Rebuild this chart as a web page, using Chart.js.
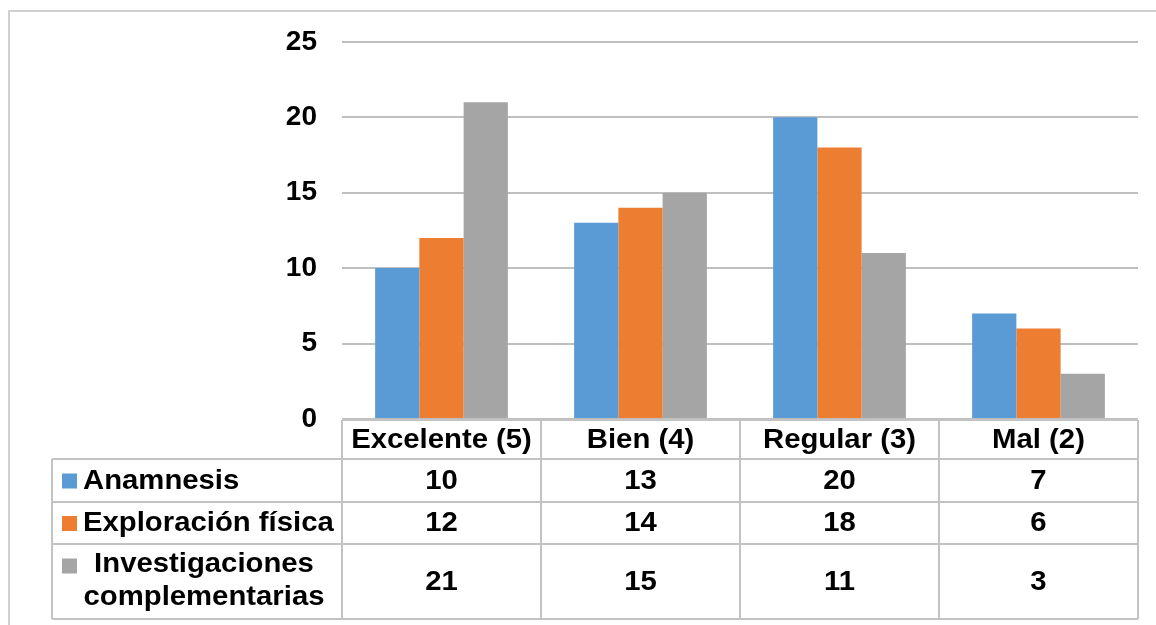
<!DOCTYPE html>
<html>
<head>
<meta charset="utf-8">
<script src="https://cdn.jsdelivr.net/npm/chart.js@4/dist/chart.umd.min.js"></script>
<style>
  html, body { margin: 0; padding: 0; background: #ffffff; }
  canvas { display: block; }
</style>
</head>
<body>
<canvas id="chart" width="1156" height="625"></canvas>
<script>
// Categories (rating levels) and the three evaluated aspects
const categories = ['Excelente (5)', 'Bien (4)', 'Regular (3)', 'Mal (2)'];
const anamnesis = [10, 13, 20, 7];
const exploracionFisica = [12, 14, 18, 6];
const investigaciones = [21, 15, 11, 3];
const seriesNames = ['Anamnesis', 'Exploración física', ['Investigaciones', 'complementarias']];
const seriesColors = ['#5B9BD5', '#ED7D31', '#A5A5A5'];
const yTicks = [0, 5, 10, 15, 20, 25];

const FONT = "'Liberation Sans', Arial, sans-serif";
const LINE = '#c3c3c3';
const STRETCH = 1.085;

// Writes a text slightly widened horizontally, anchored at (x, y)
function wideText(ctx, text, x, y, align) {
  ctx.save();
  ctx.translate(x, y);
  ctx.scale(STRETCH, 1);
  ctx.textAlign = align;
  ctx.fillText(text, 0, 0);
  ctx.restore();
}

// Draws the frame and the data table under the plot, aligned to the x scale
const dataTablePlugin = {
  id: 'dataTable',
  afterDraw(chart) {
    const ctx = chart.ctx;
    const area = chart.chartArea;
    const xs = chart.scales.x;
    const colW = (area.right - area.left) / categories.length;
    const top = area.bottom + 1;
    const rows = [top, top + 39, top + 82, top + 124, top + 199];
    const labelLeft = 52;

    ctx.save();
    // outer frame
    ctx.strokeStyle = '#d0d0d0';
    ctx.lineWidth = 2;
    ctx.beginPath();
    ctx.moveTo(9, 640);
    ctx.lineTo(9, 11);
    ctx.lineTo(1160, 11);
    ctx.stroke();

    // table grid
    ctx.strokeStyle = LINE;
    ctx.lineWidth = 2;
    ctx.beginPath();
    ctx.moveTo(area.left, rows[0]); ctx.lineTo(area.right, rows[0]);
    for (let r = 1; r < rows.length; r++) {
      ctx.moveTo(labelLeft, rows[r]); ctx.lineTo(area.right, rows[r]);
    }
    ctx.moveTo(labelLeft, rows[1]); ctx.lineTo(labelLeft, rows[4]);
    for (let i = 0; i <= categories.length; i++) {
      const x = area.left + i * colW;
      ctx.moveTo(x, rows[0]); ctx.lineTo(x, rows[4]);
    }
    ctx.stroke();

    ctx.fillStyle = '#000';
    ctx.font = 'bold 27px ' + FONT;
    ctx.textBaseline = 'middle';

    // header row: category names
    categories.forEach((c, i) => {
      wideText(ctx, c, xs.getPixelForValue(i), (rows[0] + rows[1]) / 2 + 1, 'center');
    });

    // series rows
    chart.data.datasets.forEach((ds, d) => {
      const yMid = (rows[d + 1] + rows[d + 2]) / 2 + 1;
      ds.data.forEach((v, i) => {
        wideText(ctx, String(v), xs.getPixelForValue(i), yMid, 'center');
      });
      const name = seriesNames[d];
      if (Array.isArray(name)) {
        ctx.fillStyle = ds.backgroundColor;
        ctx.fillRect(62, yMid - 24, 15, 15);
        ctx.fillStyle = '#000';
        wideText(ctx, name[0], 204, yMid - 18, 'center');
        wideText(ctx, name[1], 204, yMid + 15, 'center');
      } else {
        ctx.fillStyle = ds.backgroundColor;
        ctx.fillRect(62, yMid - 8, 15, 15);
        ctx.fillStyle = '#000';
        wideText(ctx, name, 83, yMid, 'left');
      }
    });
    ctx.restore();
  }
};

new Chart(document.getElementById('chart'), {
  type: 'bar',
  data: {
    labels: categories,
    datasets: [
      { label: 'Anamnesis', data: anamnesis, backgroundColor: seriesColors[0] },
      { label: 'Exploración física', data: exploracionFisica, backgroundColor: seriesColors[1] },
      { label: 'Investigaciones complementarias', data: investigaciones, backgroundColor: seriesColors[2] }
    ]
  },
  options: {
    responsive: false,
    animation: false,
    events: [],
    datasets: { bar: { categoryPercentage: 0.667, barPercentage: 1.0 } },
    layout: { padding: { left: 0, right: 18, top: 39, bottom: 206 } },
    plugins: { legend: { display: false }, tooltip: { enabled: false } },
    scales: {
      x: { display: false },
      y: {
        min: 0,
        max: 25,
        afterFit(scale) { scale.width = 342; },
        afterBuildTicks(scale) { scale.ticks = yTicks.map(v => ({ value: v })); },
        border: { display: false },
        grid: { color: '#bfbfbf', lineWidth: 2, drawTicks: false },
        ticks: {
          padding: 25,
          color: '#000',
          font: { family: FONT, size: 28, weight: 'bold' }
        }
      }
    }
  },
  plugins: [dataTablePlugin]
});
</script>
</body>
</html>
